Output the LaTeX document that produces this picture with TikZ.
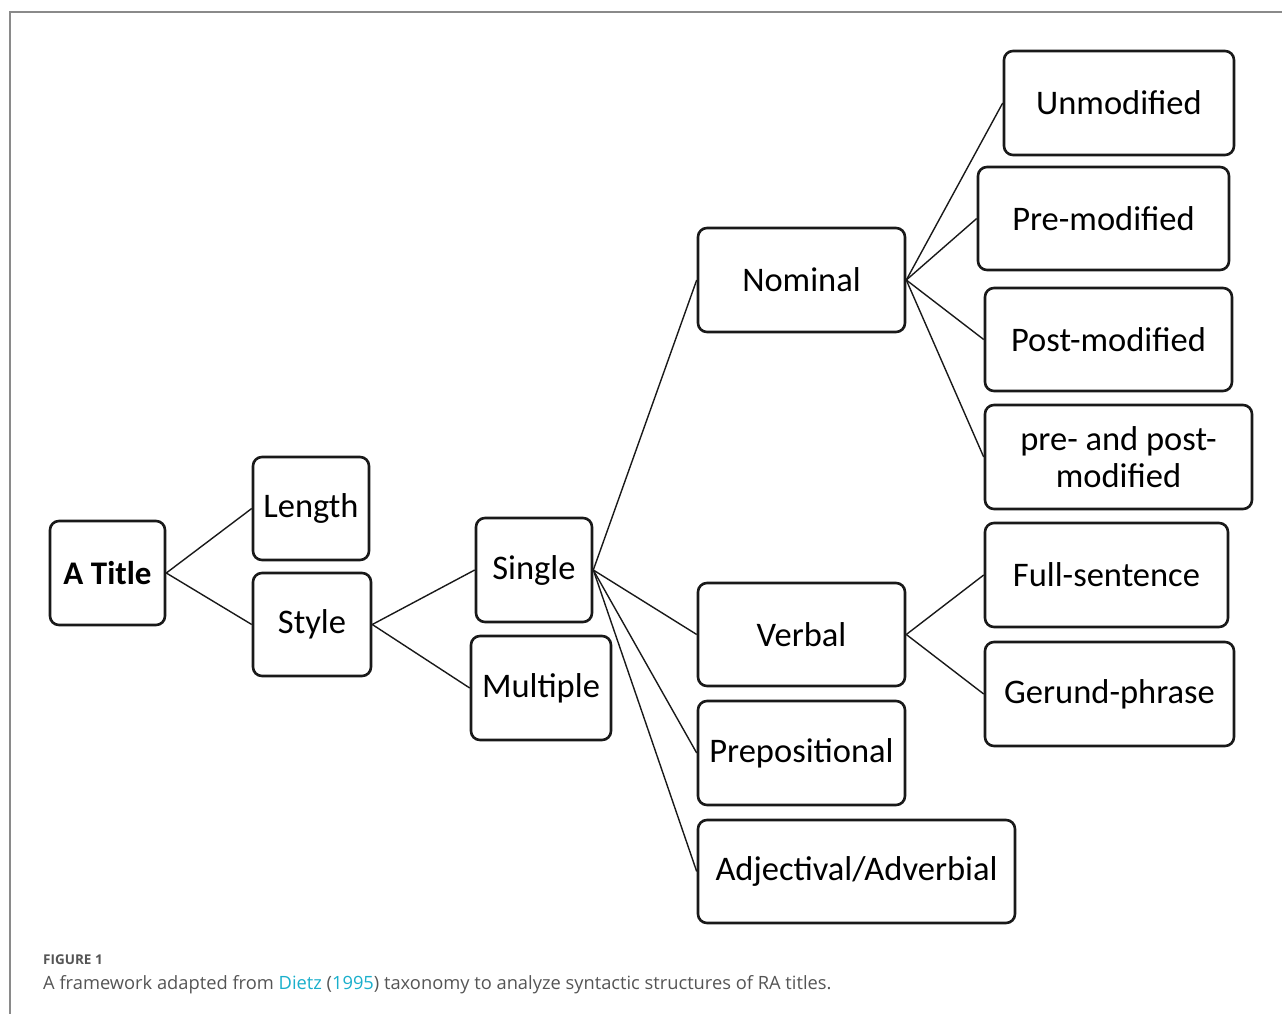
\documentclass[tikz,border=0pt]{standalone}
\usepackage{fontspec}
\setmainfont{Carlito}
\newfontfamily\capfont{Open Sans}
\definecolor{frame}{HTML}{8A8A8A}
\definecolor{captxt}{HTML}{555555}
\definecolor{cite}{HTML}{1AAFCB}
\begin{document}
\begin{tikzpicture}[x=1pt,y=-1pt,
  box/.style={draw=black!90, line width=2.6pt, rounded corners=9pt, inner sep=0pt, align=center, font=\fontsize{34.5}{37}\selectfont},
  link/.style={line width=1.4pt, black!90}]
\useasboundingbox (0,0) rectangle (1282,1014);
% frame
\draw[frame, line width=1.4pt] (10,1014) -- (10,12) -- (1282,12);
% nodes
\node[box, minimum width=115pt, minimum height=104pt, font=\fontsize{33}{37}\selectfont\bfseries] (title) at (107.5,573) {A Title};
\node[box, minimum width=116pt, minimum height=103pt] (length) at (311,508.5) {Length};
\node[box, minimum width=118pt, minimum height=103pt] (style) at (312,624.5) {Style};
\node[box, minimum width=116pt, minimum height=104pt] (single) at (534,570) {Single};
\node[box, minimum width=140pt, minimum height=104pt] (multiple) at (541,688) {Multiple};
\node[box, minimum width=207pt, minimum height=104pt] (nominal) at (801.5,280) {Nominal};
\node[box, minimum width=207pt, minimum height=103pt] (verbal) at (801.5,634.5) {Verbal};
\node[box, minimum width=207pt, minimum height=104pt] (prep) at (801.5,753) {Prepositional};
\node[box, minimum width=317pt, minimum height=103pt] (adj) at (856.5,871.5) {Adjectival/Adverbial};
\node[box, minimum width=230pt, minimum height=104pt] (unmod) at (1119,103) {Unmodified};
\node[box, minimum width=251pt, minimum height=103pt] (premod) at (1103.5,218.5) {Pre-modified};
\node[box, minimum width=247pt, minimum height=103pt] (postmod) at (1108.5,339.5) {Post-modified};
\node[box, minimum width=267pt, minimum height=104pt] (prepost) at (1118.5,457) {pre- and post-\\modified};
\node[box, minimum width=243pt, minimum height=104pt] (full) at (1106.5,575) {Full-sentence};
\node[box, minimum width=249pt, minimum height=104pt] (gerund) at (1109.5,694) {Gerund-phrase};
% connectors
\draw[link] (title.east) -- (length.west);
\draw[link] (title.east) -- (style.west);
\draw[link] (style.east) -- (single.west);
\draw[link] (style.east) -- (multiple.west);
\draw[link] (single.east) -- (nominal.west);
\draw[link] (single.east) -- (verbal.west);
\draw[link] (single.east) -- (prep.west);
\draw[link] (single.east) -- (adj.west);
\draw[link] (nominal.east) -- (unmod.west);
\draw[link] (nominal.east) -- (premod.west);
\draw[link] (nominal.east) -- (postmod.west);
\draw[link] (nominal.east) -- (prepost.west);
\draw[link] (verbal.east) -- (full.west);
\draw[link] (verbal.east) -- (gerund.west);
% caption
\node[anchor=base west, inner sep=0pt, text=captxt, font=\capfont\fontsize{13.5}{15}\selectfont\bfseries] (fig) at (43,964) {FIGURE 1};
\node[anchor=base west, inner sep=0pt, text=captxt, font=\capfont\fontsize{18.3}{20}\selectfont] (cap) at (43,989) {A framework adapted from \textcolor{cite}{Dietz} (\textcolor{cite}{1995}) taxonomy to analyze syntactic structures of RA titles.};
\end{tikzpicture}
\end{document}
